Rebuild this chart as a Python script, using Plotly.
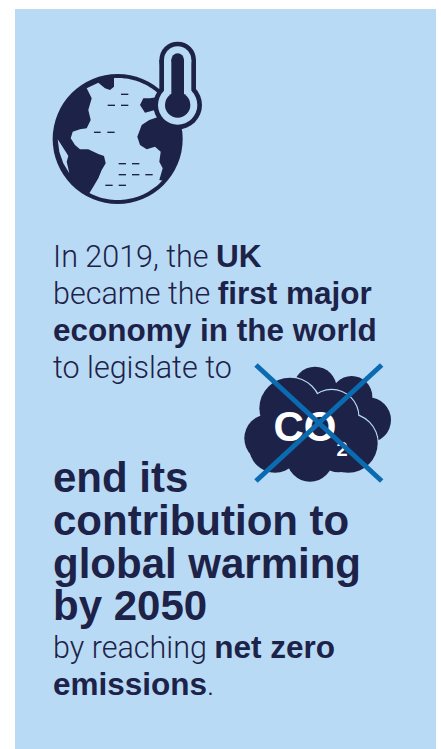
import math
import plotly.graph_objects as go

INK = "#1d2248"
PANEL = "#b9daf4"
BLUE = "#0a6bb0"
LIGHT_FONT = "Roboto"
BOLD_FONT = "Liberation Sans"

def L(s):
    return f'<span style="font-family:{LIGHT_FONT};font-weight:300;font-size:30.5px">{s}</span>'

# Text content: (text, centre y, size)
text_lines = [
    (L("In 2019, the ") + "<b>UK</b>", 256, 31.5),
    (L("became the ") + "<b>first major</b>", 293, 31.5),
    ("<b>economy in the world</b>", 330, 31.5),
    (L("to legislate to"), 367, 31.5),
    ("<b>end its</b>", 477, 42),
    ("<b>contribution to</b>", 520, 42),
    ("<b>global warming</b>", 563, 42),
    ("<b>by 2050</b>", 605, 42),
    (L("by reaching ") + "<b>net zero</b>", 647, 31.5),
    ("<b>emissions</b>" + L("."), 684, 31.5),
]

globe_ocean = [(252,146),"arc:-50",(388,200),(360,205),(340,205),(330,225),(345,248),(375,240),(382,262),(358,270),
               (335,285),(322,320),(330,345),(350,358),(375,350),(392,365),(388,395),(398,415),(388,450),(398,452),
               "arc:117.5",(178,490),(190,470),(205,445),(215,420),(227,400),(222,378),(205,372),(175,358),(150,358),
               (135,345),(122,325),(128,305),(150,298),(170,295),(182,270),(175,240),(185,205),(170,175),(205,158),
               (225,175),(240,180),(252,170)]
sliver = [(83,328),(110,370),(115,378),(110,395),(118,430),(100,400),(88,365)]
dashes = [(273,295,193),(233,255,226),(273,295,226),(192,212,307),(232,254,307),(266,288,401),(306,328,401),
          (266,288,434),(306,328,434),(346,368,434),(226,248,466),(266,288,466)]
back_cloud = [(240,115,65),(350,140,62),(400,210,68),(350,200,70)]
front_cloud = [(165,175,92),(290,200,80),(340,280,88),(100,265,72),(120,290,78),(225,325,70),(310,305,62),(220,240,100)]

GX, GY, GS = 30, 30, 1/3
CX, CY = 263, 327
CLX, CLY = 235, 350

def g(p):
    return GX + p[0]*GS, GY + p[1]*GS

def poly(points):
    return "M " + " L ".join(f"{x:.1f} {y:.1f}" for x, y in points) + " Z"

def circle(x, y, r, color):
    return dict(type="circle", x0=x-r, x1=x+r, y0=y-r, y1=y+r, fillcolor=color, line_width=0, layer="below")

def ocean_points():
    out, last = [], None
    for item in globe_ocean:
        if isinstance(item, str):
            a0 = math.degrees(math.atan2(last[1]-CY, last[0]-CX))
            a1 = float(item.split(":")[1])
            for i in range(31):
                a = math.radians(a0 + (a1-a0)*i/30)
                out.append((CX+183*math.cos(a), CY+183*math.sin(a)))
        else:
            out.append(item)
            last = item
    return out

def cl(c, extra=0):
    return CLX + c[0]/3, CLY + c[1]/3, c[2]/3 + extra

shapes = [dict(type="rect", x0=15, x1=436, y0=9, y1=749, fillcolor=PANEL, line_width=0, layer="below")]
cx, cy = g((CX, CY))
shapes.append(circle(cx, cy, 65, INK))
shapes.append(dict(type="path", path=poly([g(p) for p in ocean_points()]), fillcolor=PANEL, line_width=0, layer="below"))
shapes.append(dict(type="path", path=poly([g(p) for p in sliver]), fillcolor=PANEL, line_width=0, layer="below"))
for x0, x1, y in dashes:
    a, b = g((x0, y)), g((x1, y))
    shapes.append(dict(type="line", x0=a[0], x1=b[0], y0=a[1], y1=b[1], line=dict(color=INK, width=1.4), layer="below"))

def thermo(half, top, r, color):
    bx, by = 443, 225
    out = [circle(*g((bx, by)), r/3, color), circle(*g((bx, top+half)), half/3, color)]
    x0, y0 = g((bx-half, top+half)); x1, y1 = g((bx+half, by))
    out.append(dict(type="rect", x0=x0, x1=x1, y0=y0, y1=y1, fillcolor=color, line_width=0, layer="below"))
    return out
shapes += thermo(55, 35, 73, INK)
shapes += thermo(41, 49, 59, PANEL)
shapes += thermo(19, 70, 38, INK)

for c in back_cloud:
    shapes.append(circle(*cl(c), INK))
for c in front_cloud:
    x, y, r = cl(c, 1.2)
    shapes.append(circle(x, y, r, PANEL))
for c in front_cloud:
    shapes.append(circle(*cl(c), INK))
for (a, b), (c, d) in [((63,45),(440,393)), ((440,45),(63,393))]:
    shapes.append(dict(type="line", x0=CLX+a/3, y0=CLY+b/3, x1=CLX+c/3, y1=CLY+d/3,
                       line=dict(color=BLUE, width=5), layer="above"))

fig = go.Figure()
fig.add_trace(go.Scatter(x=[305], y=[430], mode="text", text=["<b>CO</b>"],
                         textfont=dict(family="Liberation Sans", size=42, color="white"),
                         textposition="middle center", hoverinfo="skip"))
fig.add_trace(go.Scatter(x=[342], y=[451], mode="text", text=["<b>2</b>"],
                         textfont=dict(family="Liberation Sans", size=20, color="white"),
                         textposition="middle center", hoverinfo="skip"))
annotations = [dict(x=51, y=y, xref="x", yref="y", text=t, showarrow=False, xanchor="left", yanchor="middle",
                    font=dict(family=BOLD_FONT, size=s, color=INK))
               for t, y, s in text_lines]
fig.update_layout(width=441, height=749, margin=dict(l=0, r=0, t=0, b=0), paper_bgcolor="white", plot_bgcolor="white",
                  showlegend=False, shapes=shapes, annotations=annotations,
                  xaxis=dict(range=[0, 441], visible=False, fixedrange=True),
                  yaxis=dict(range=[749, 0], visible=False, fixedrange=True))
fig.write_html("out.html", config={"displayModeBar": False},
               post_script="document.body.style.margin='0';document.body.style.overflow='hidden';")
